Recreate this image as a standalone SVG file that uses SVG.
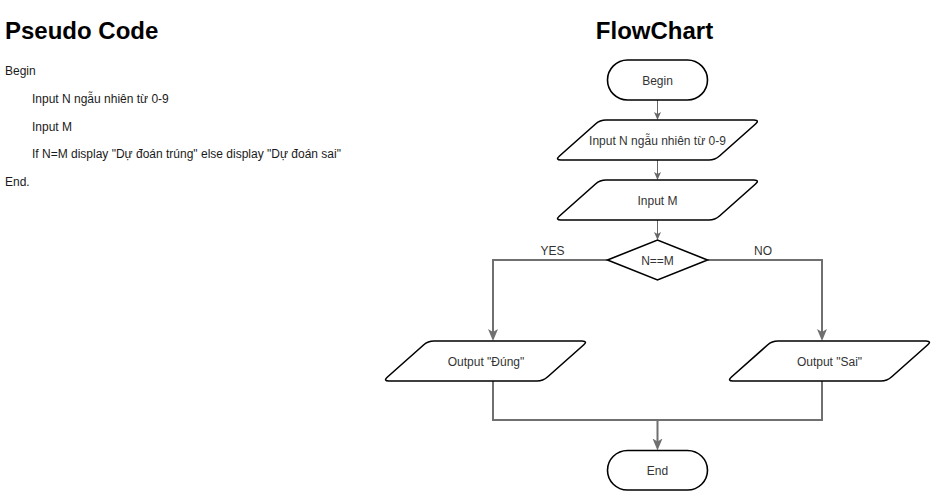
<svg xmlns="http://www.w3.org/2000/svg" xmlns:xlink="http://www.w3.org/1999/xlink" width="934" height="491" viewBox="0 0 934 491">
<style>
  text { font-family: "Liberation Sans", Arial, Helvetica, sans-serif; }
  .title { font-size: 24px; font-weight: bold; fill: #000; }
  .code { font-size: 12px; fill: #1a1a1a; }
  .lbl { font-size: 12px; fill: #333; text-anchor: middle; }
  .shape { fill: #fff; stroke: #000; stroke-width: 1.6; }
  .thin { fill: none; stroke: #666; stroke-width: 1; }
  .thick { fill: none; stroke: #707070; stroke-width: 2; }
</style>
<defs>
  <path id="para" d="M 4.48,36.02 L 40.52,3.98 Q 45,0 51,0 L 199,0 Q 205,0 200.52,3.98 L 164.48,36.02 Q 160,40 154,40 L 6,40 Q 0,40 4.48,36.02 Z"/>
  <marker id="arrS" markerUnits="userSpaceOnUse" markerWidth="8" markerHeight="8" viewBox="0 0 8 8" refX="6" refY="4" orient="auto">
    <path d="M0,0.5 L8,4 L0,7.5 L2,4 Z" fill="#666"/>
  </marker>
  <marker id="arrL" markerUnits="userSpaceOnUse" markerWidth="12" markerHeight="12" viewBox="0 0 12 12" refX="8" refY="6" orient="auto">
    <path d="M0,1 L12,6 L0,11 L3,6 Z" fill="#707070"/>
  </marker>
</defs>

<g id="pseudocode">
  <text class="title" x="5" y="39">Pseudo Code</text>
  <text class="code" x="5" y="75">Begin</text>
  <text class="code" x="32" y="102.5">Input N ngẫu nhiên từ 0-9</text>
  <text class="code" x="32" y="130.5">Input M</text>
  <text class="code" x="32" y="158">If N=M display "Dự đoán trúng" else display "Dự đoán sai"</text>
  <text class="code" x="5" y="186">End.</text>
</g>

<g id="flowchart-title">
  <text class="title" x="654.5" y="39" text-anchor="middle">FlowChart</text>
</g>

<g id="connectors">
  <path class="thin" d="M657.5,100 V118" marker-end="url(#arrS)"/>
  <path class="thin" d="M657.5,160 V178" marker-end="url(#arrS)"/>
  <path class="thin" d="M657.5,220 V238" marker-end="url(#arrS)"/>
  <path class="thick" d="M607.5,260 H493 V337" marker-end="url(#arrL)"/>
  <path class="thick" d="M707.5,260 H822 V337" marker-end="url(#arrL)"/>
  <path class="thick" d="M493,381 V420 H657.5 V446.5" marker-end="url(#arrL)"/>
  <path class="thick" d="M822,381 V420 H657.5"/>
  <text class="lbl" x="552.5" y="254.5">YES</text>
  <text class="lbl" x="763" y="254.5">NO</text>
</g>

<g id="begin">
  <rect class="shape" x="607.5" y="60" width="100" height="40" rx="20" ry="20"/>
  <text class="lbl" x="657.5" y="84.5">Begin</text>
</g>

<g id="inputN">
  <use xlink:href="#para" class="shape" transform="translate(555,120)"/>
  <text class="lbl" x="657.5" y="144.5">Input N ngẫu nhiên từ 0-9</text>
</g>

<g id="inputM">
  <use xlink:href="#para" class="shape" transform="translate(555,180)"/>
  <text class="lbl" x="657.5" y="204.5">Input M</text>
</g>

<g id="decision">
  <polygon class="shape" points="607.5,260 657.5,240 707.5,260 657.5,280"/>
  <text class="lbl" x="657.5" y="264.5">N==M</text>
</g>

<g id="outputDung">
  <use xlink:href="#para" class="shape" transform="translate(383,341)"/>
  <text class="lbl" x="486" y="365.5">Output "Đúng"</text>
</g>

<g id="outputSai">
  <use xlink:href="#para" class="shape" transform="translate(727,341)"/>
  <text class="lbl" x="829.5" y="365.5">Output "Sai"</text>
</g>

<g id="end">
  <rect class="shape" x="607.5" y="450.5" width="100" height="39.5" rx="20" ry="20"/>
  <text class="lbl" x="657.5" y="474.5">End</text>
</g>
</svg>
